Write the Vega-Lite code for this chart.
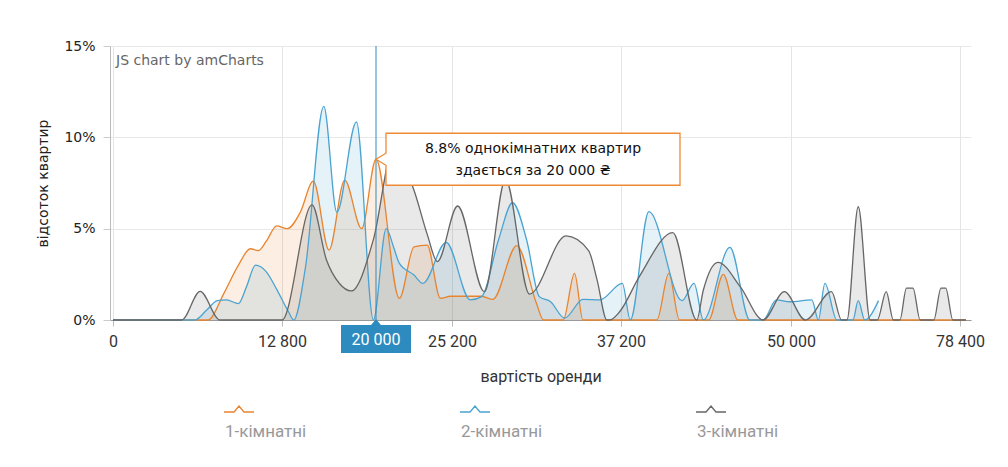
{
  "$schema": "https://vega.github.io/schema/vega-lite/v6.json",
  "width": 861,
  "height": 274,
  "autosize": {"type": "none"},
  "padding": {"left": 110, "top": 46, "right": 37, "bottom": 147},
  "background": "white",
  "config": {"view": {"stroke": null}, "font": "DejaVu Sans"},
  "datasets": {
    "series": [
      {"type": "1-кімнатні", "price": 0, "share": 0},
      {"type": "1-кімнатні", "price": 7200, "share": 0},
      {"type": "1-кімнатні", "price": 8400, "share": 1.46},
      {"type": "1-кімнатні", "price": 9500, "share": 3.0},
      {"type": "1-кімнатні", "price": 10400, "share": 3.9},
      {"type": "1-кімнатні", "price": 11000, "share": 3.8},
      {"type": "1-кімнатні", "price": 11600, "share": 4.3},
      {"type": "1-кімнатні", "price": 12400, "share": 5.15},
      {"type": "1-кімнатні", "price": 13200, "share": 5.0},
      {"type": "1-кімнатні", "price": 14200, "share": 5.9},
      {"type": "1-кімнатні", "price": 15200, "share": 7.6},
      {"type": "1-кімнатні", "price": 16400, "share": 3.83},
      {"type": "1-кімнатні", "price": 17600, "share": 7.66},
      {"type": "1-кімнатні", "price": 18900, "share": 5.0},
      {"type": "1-кімнатні", "price": 20000, "share": 8.8},
      {"type": "1-кімнатні", "price": 21600, "share": 1.19},
      {"type": "1-кімнатні", "price": 22600, "share": 4.0},
      {"type": "1-кімнатні", "price": 23500, "share": 4.1},
      {"type": "1-кімнатні", "price": 24400, "share": 1.19},
      {"type": "1-кімнатні", "price": 25100, "share": 1.3},
      {"type": "1-кімнатні", "price": 27300, "share": 1.3},
      {"type": "1-кімнатні", "price": 28100, "share": 1.13},
      {"type": "1-кімнатні", "price": 29800, "share": 4.07},
      {"type": "1-кімнатні", "price": 31200, "share": 0.9},
      {"type": "1-кімнатні", "price": 31700, "share": 0},
      {"type": "1-кімнатні", "price": 33100, "share": 0},
      {"type": "1-кімнатні", "price": 33900, "share": 2.55},
      {"type": "1-кімнатні", "price": 34500, "share": 0},
      {"type": "1-кімнатні", "price": 39900, "share": 0},
      {"type": "1-кімнатні", "price": 40800, "share": 2.55},
      {"type": "1-кімнатні", "price": 41600, "share": 0},
      {"type": "1-кімнатні", "price": 43800, "share": 0},
      {"type": "1-кімнатні", "price": 44900, "share": 2.5},
      {"type": "1-кімнатні", "price": 46000, "share": 0},
      {"type": "1-кімнатні", "price": 79400, "share": 0},

      {"type": "2-кімнатні", "price": 0, "share": 0},
      {"type": "2-кімнатні", "price": 6200, "share": 0},
      {"type": "2-кімнатні", "price": 7100, "share": 0.55},
      {"type": "2-кімнатні", "price": 7900, "share": 1.06},
      {"type": "2-кімнатні", "price": 8600, "share": 1.1},
      {"type": "2-кімнатні", "price": 9500, "share": 0.9},
      {"type": "2-кімнатні", "price": 10100, "share": 1.8},
      {"type": "2-кімнатні", "price": 10800, "share": 3.0},
      {"type": "2-кімнатні", "price": 11600, "share": 2.65},
      {"type": "2-кімнатні", "price": 12400, "share": 1.68},
      {"type": "2-кімнатні", "price": 13300, "share": 0.45},
      {"type": "2-кімнатні", "price": 13700, "share": 0},
      {"type": "2-кімнатні", "price": 14600, "share": 2.9},
      {"type": "2-кімнатні", "price": 16000, "share": 11.7},
      {"type": "2-кімнатні", "price": 17000, "share": 5.9},
      {"type": "2-кімнатні", "price": 18500, "share": 10.85},
      {"type": "2-кімнатні", "price": 19800, "share": 0},
      {"type": "2-кімнатні", "price": 20700, "share": 5.0},
      {"type": "2-кімнатні", "price": 21200, "share": 4.0},
      {"type": "2-кімнатні", "price": 21600, "share": 3.1},
      {"type": "2-кімнатні", "price": 22600, "share": 2.46},
      {"type": "2-кімнатні", "price": 23200, "share": 2.0},
      {"type": "2-кімнатні", "price": 24800, "share": 4.25},
      {"type": "2-кімнатні", "price": 26500, "share": 1.1},
      {"type": "2-кімнатні", "price": 27300, "share": 1.28},
      {"type": "2-кімнатні", "price": 28500, "share": 4.38},
      {"type": "2-кімнатні", "price": 29500, "share": 6.42},
      {"type": "2-кімнатні", "price": 30500, "share": 4.38},
      {"type": "2-кімнатні", "price": 31400, "share": 1.28},
      {"type": "2-кімнатні", "price": 32200, "share": 1.0},
      {"type": "2-кімнатні", "price": 33200, "share": 0.1},
      {"type": "2-кімнатні", "price": 34500, "share": 1.13},
      {"type": "2-кімнатні", "price": 35700, "share": 1.1},
      {"type": "2-кімнатні", "price": 37300, "share": 2.0},
      {"type": "2-кімнатні", "price": 37900, "share": 0},
      {"type": "2-кімнатні", "price": 39300, "share": 5.93},
      {"type": "2-кімнатні", "price": 41800, "share": 1.06},
      {"type": "2-кімнатні", "price": 42700, "share": 2.0},
      {"type": "2-кімнатні", "price": 43400, "share": 0},
      {"type": "2-кімнатні", "price": 45400, "share": 3.98},
      {"type": "2-кімнатні", "price": 46900, "share": 0},
      {"type": "2-кімнатні", "price": 47900, "share": 0},
      {"type": "2-кімнатні", "price": 48900, "share": 1.1},
      {"type": "2-кімнатні", "price": 49900, "share": 1.0},
      {"type": "2-кімнатні", "price": 53500, "share": 1.1},
      {"type": "2-кімнатні", "price": 54600, "share": 0},
      {"type": "2-кімнатні", "price": 55700, "share": 2.0},
      {"type": "2-кімнатні", "price": 57700, "share": 0},
      {"type": "2-кімнатні", "price": 60400, "share": 0},
      {"type": "2-кімнатні", "price": 61300, "share": 1.06},
      {"type": "2-кімнатні", "price": 62400, "share": 0},
      {"type": "2-кімнатні", "price": 64700, "share": 1.06},

      {"type": "3-кімнатні", "price": 0, "share": 0},
      {"type": "3-кімнатні", "price": 5200, "share": 0},
      {"type": "3-кімнатні", "price": 6600, "share": 1.57},
      {"type": "3-кімнатні", "price": 8100, "share": 0},
      {"type": "3-кімнатні", "price": 12800, "share": 0},
      {"type": "3-кімнатні", "price": 15100, "share": 6.3},
      {"type": "3-кімнатні", "price": 16200, "share": 3.3},
      {"type": "3-кімнатні", "price": 17200, "share": 2.0},
      {"type": "3-кімнатні", "price": 18100, "share": 1.59},
      {"type": "3-кімнатні", "price": 19800, "share": 4.4},
      {"type": "3-кімнатні", "price": 21200, "share": 9.4},
      {"type": "3-кімнатні", "price": 22600, "share": 7.1},
      {"type": "3-кімнатні", "price": 23500, "share": 4.7},
      {"type": "3-кімнатні", "price": 24200, "share": 3.2},
      {"type": "3-кімнатні", "price": 25600, "share": 6.24},
      {"type": "3-кімнатні", "price": 27500, "share": 1.55},
      {"type": "3-кімнатні", "price": 29000, "share": 7.7},
      {"type": "3-кімнатні", "price": 30700, "share": 1.42},
      {"type": "3-кімнатні", "price": 33300, "share": 4.6},
      {"type": "3-кімнатні", "price": 34900, "share": 3.8},
      {"type": "3-кімнатні", "price": 35500, "share": 2.2},
      {"type": "3-кімнатні", "price": 36200, "share": 0},
      {"type": "3-кімнатні", "price": 36400, "share": 0},
      {"type": "3-кімнатні", "price": 37100, "share": 0.45},
      {"type": "3-кімнатні", "price": 38600, "share": 2.4},
      {"type": "3-кімнатні", "price": 41100, "share": 4.78},
      {"type": "3-кімнатні", "price": 42900, "share": 0},
      {"type": "3-кімнатні", "price": 43400, "share": 1.64},
      {"type": "3-кімнатні", "price": 44500, "share": 3.16},
      {"type": "3-кімнатні", "price": 46200, "share": 1.8},
      {"type": "3-кімнатні", "price": 47900, "share": 0},
      {"type": "3-кімнатні", "price": 49500, "share": 1.55},
      {"type": "3-кімнатні", "price": 52400, "share": 0},
      {"type": "3-кімнатні", "price": 56800, "share": 1.55},
      {"type": "3-кімнатні", "price": 58500, "share": 0},
      {"type": "3-кімнатні", "price": 59400, "share": 0},
      {"type": "3-кімнатні", "price": 61300, "share": 6.2},
      {"type": "3-кімнатні", "price": 63300, "share": 0},
      {"type": "3-кімнатні", "price": 64500, "share": 0},
      {"type": "3-кімнатні", "price": 66000, "share": 1.55},
      {"type": "3-кімнатні", "price": 67200, "share": 0},
      {"type": "3-кімнатні", "price": 68300, "share": 0},
      {"type": "3-кімнатні", "price": 69400, "share": 1.75},
      {"type": "3-кімнатні", "price": 70500, "share": 1.75},
      {"type": "3-кімнатні", "price": 71700, "share": 0},
      {"type": "3-кімнатні", "price": 74000, "share": 0},
      {"type": "3-кімнатні", "price": 75200, "share": 1.75},
      {"type": "3-кімнатні", "price": 76000, "share": 1.75},
      {"type": "3-кімнатні", "price": 77200, "share": 0},
      {"type": "3-кімнатні", "price": 79400, "share": 0}
    ],
    "cursor": [
      {"price": 20000, "share": 8.8, "label": "20 000"}
    ]
  },
  "encoding": {
    "x": {
      "field": "price",
      "type": "quantitative",
      "scale": {
        "domain": [-227, 0, 12800, 20000, 25200, 37200, 50000, 78400, 80248],
        "range": [0, 3, 172, 266, 342, 511, 681, 850, 861],
        "nice": false,
        "zero": false
      },
      "axis": {
        "values": [0, 12800, 25200, 37200, 50000, 78400],
        "labelExpr": "replace(format(datum.value, ','), ',', ' ')",
        "grid": true,
        "gridColor": "#e4e4e4",
        "domainColor": "#999999",
        "tickColor": "#bbbbbb",
        "tickSize": 6,
        "labelFont": "Roboto",
        "labelFontSize": 16,
        "labelColor": "#333333",
        "labelPadding": 7,
        "labelFlush": false,
        "labelOverlap": false,
        "title": "вартість оренди",
        "titleFont": "Roboto",
        "titleFontSize": 16,
        "titleFontWeight": "normal",
        "titleColor": "#333333",
        "titlePadding": 19
      }
    },
    "y": {
      "field": "share",
      "type": "quantitative",
      "stack": null,
      "scale": {"domain": [0, 15], "nice": false, "zero": true},
      "axis": {
        "values": [0, 5, 10, 15],
        "labelExpr": "datum.value + '%'",
        "grid": true,
        "gridColor": "#e8e8e8",
        "domainColor": "#bbbbbb",
        "tickColor": "#cccccc",
        "tickSize": 7,
        "labelFont": "DejaVu Sans",
        "labelFontSize": 14,
        "labelColor": "#222222",
        "labelPadding": 8,
        "title": "відсоток квартир",
        "titleFont": "DejaVu Sans",
        "titleFontSize": 14,
        "titleFontWeight": "normal",
        "titleColor": "#222222",
        "titlePadding": 13
      }
    }
  },
  "layer": [
    {
      "data": {"name": "series"},
      "mark": {
        "type": "area",
        "interpolate": "monotone",
        "fillOpacity": 0.14,
        "line": {"strokeWidth": 1.3}
      },
      "encoding": {
        "color": {
          "field": "type",
          "type": "nominal",
          "scale": {
            "domain": ["1-кімнатні", "2-кімнатні", "3-кімнатні"],
            "range": ["#e8842f", "#4aa3d0", "#666666"]
          },
          "legend": {
            "orient": "none",
            "legendX": 113,
            "legendY": 347,
            "direction": "horizontal",
            "columns": 3,
            "title": null,
            "padding": 0,
            "symbolType": "M-1,0.2L-0.33,0.2L0,-0.2L0.33,0.2L1,0.2L0.33,0.2L0,-0.2L-0.33,0.2Z",
            "symbolSize": 900,
            "symbolStrokeWidth": 1.3,
            "symbolFillColor": "transparent",
            "labelFont": "Roboto",
            "labelFontSize": 17,
            "labelColor": "#999999",
            "labelOffset": -30,
            "labelBaseline": "middle",
            "columnPadding": 150,
            "gridAlign": "all",
            "symbolLimit": 0,
            "encode": {
              "symbols": {
                "update": {
                  "fill": {"value": "transparent"},
                  "stroke": {"scale": "color", "field": "value"},
                  "opacity": {"value": 1}
                }
              },
              "labels": {
                "update": {
                  "dy": {"value": 23}
                }
              }
            }
          }
        }
      }
    },
    {
      "data": {"name": "cursor"},
      "mark": {"type": "rule", "color": "#2f8bc0", "strokeWidth": 1},
      "encoding": {"y": null}
    },
    {
      "data": {"name": "cursor"},
      "mark": {
        "type": "point",
        "shape": "M-1,-0.1769L1,-0.1769L1,0.1769L-1,0.1769L-1,0.041L-1.068,0L-1,-0.041Z",
        "size": 86436,
        "filled": true,
        "fill": "white",
        "stroke": "#ee8a33",
        "strokeWidth": 1.3,
        "opacity": 1,
        "xOffset": 157
      }
    },
    {
      "data": {"name": "cursor"},
      "mark": {
        "type": "text",
        "text": ["8.8% однокімнатних квартир", "здається за 20 000 ₴"],
        "font": "DejaVu Sans",
        "fontSize": 14,
        "lineHeight": 22,
        "color": "#111111",
        "align": "center",
        "baseline": "middle",
        "xOffset": 157,
        "yOffset": -10
      }
    },
    {
      "data": {"name": "cursor"},
      "mark": {
        "type": "point",
        "shape": "M-1,-0.4L-0.14,-0.4L0,-0.57L0.14,-0.4L1,-0.4L1,0.4L-1,0.4Z",
        "size": 4900,
        "filled": true,
        "fill": "#2e8bc0",
        "strokeWidth": 0,
        "opacity": 1,
        "yOffset": 19
      },
      "encoding": {"y": {"datum": 0, "type": "quantitative"}}
    },
    {
      "data": {"name": "cursor"},
      "mark": {
        "type": "text",
        "font": "Roboto",
        "fontSize": 16,
        "color": "white",
        "align": "center",
        "baseline": "middle",
        "yOffset": 20
      },
      "encoding": {
        "y": {"datum": 0, "type": "quantitative"},
        "text": {"field": "label", "type": "nominal"}
      }
    },
    {
      "data": {"name": "cursor"},
      "mark": {
        "type": "text",
        "text": "JS chart by amCharts",
        "font": "DejaVu Sans",
        "fontSize": 14,
        "color": "#666666",
        "align": "left",
        "baseline": "top",
        "dx": 3,
        "dy": 8
      },
      "encoding": {
        "x": {"datum": 0, "type": "quantitative"},
        "y": {"datum": 15, "type": "quantitative"}
      }
    }
  ]
}
